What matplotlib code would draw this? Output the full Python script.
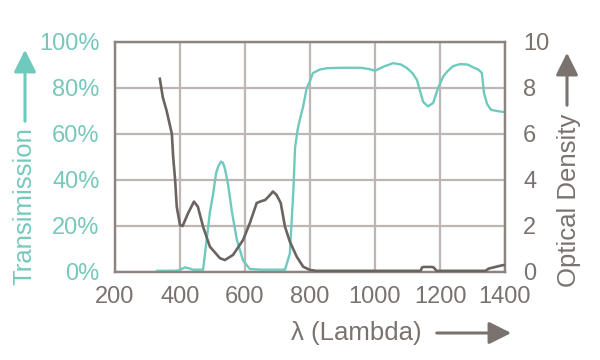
import matplotlib
matplotlib.use("Agg")
import matplotlib.pyplot as plt
from matplotlib.patches import FancyArrowPatch

# Data
wl_T = [330, 394, 405, 415, 428, 440, 471, 482, 492, 502, 511, 518, 526, 532, 538, 548, 560, 575, 594, 615,
        650, 700, 723, 738, 749, 754, 762, 770, 779, 790, 800, 809, 830, 852, 900, 954, 980, 1000, 1030, 1056,
        1080, 1098, 1115, 1129, 1140, 1148, 1163, 1179, 1194, 1210, 1221, 1240, 1262, 1285, 1302, 1318, 1329,
        1335, 1345, 1357, 1375, 1394, 1400]
trans = [0.5, 0.6, 1.3, 2.0, 1.6, 1.0, 1.0, 14, 26, 34, 43, 46, 48, 47.5, 45, 38, 26, 14, 5, 1.3,
         1.0, 1.0, 1.0, 8, 36, 54, 62, 67, 72, 80, 83, 86.5, 88, 88.6, 88.8, 88.8, 88.3, 87.5, 89.5, 90.8,
         90.2, 88.7, 86.5, 83.5, 78, 74, 72, 73.5, 80, 85, 87, 89.5, 90.4, 90.2, 89, 88, 86.5,
         78, 73, 70.5, 70, 69.6, 69.5]

wl_OD = [338, 347, 359, 367, 375, 379, 385, 390, 400, 408, 425, 443, 455, 471, 492, 523, 538, 563, 594, 615,
         636, 650, 662, 677, 686, 697, 710, 723, 738, 759, 779, 800, 820, 900, 1000, 1100, 1140, 1145, 1150,
         1175, 1180, 1190, 1250, 1340, 1350, 1394, 1400]
od = [8.4, 7.6, 7.0, 6.5, 6.0, 5.0, 4.0, 2.84, 2.04, 2.0, 2.56, 3.06, 2.84, 1.97, 1.1, 0.6, 0.52, 0.74, 1.39, 2.13,
      3.0, 3.08, 3.13, 3.35, 3.5, 3.35, 3.0, 1.97, 1.32, 0.67, 0.23, 0.09, 0.05, 0.05, 0.05, 0.05, 0.05, 0.2, 0.22,
      0.22, 0.2, 0.05, 0.05, 0.05, 0.15, 0.3, 0.3]

x_ticks = [200, 400, 600, 800, 1000, 1200, 1400]
t_ticks = [0, 20, 40, 60, 80, 100]
t_labels = ["0%", "20%", "40%", "60%", "80%", "100%"]
od_ticks = [0, 2, 4, 6, 8, 10]

TEAL = "#6fcabd"
TEAL_TXT = "#77c8bb"
GRAY = "#6a6360"
GRAY_TXT = "#7a726f"
GRID = "#bdb6b3"
FRAME = "#8c8480"

plt.rcParams['font.family'] = ['Liberation Sans', 'DejaVu Sans']

fig = plt.figure(figsize=(6, 3.6), dpi=100)
ax = fig.add_axes([115/600, 88/360, 390/600, 230/360])
ax2 = ax.twinx()

ax.plot(wl_T, trans, color=TEAL, lw=1.7, zorder=3)
ax2.plot(wl_OD, od, color=GRAY, lw=1.9, zorder=3)

ax.set_xlim(200, 1400)
ax.set_ylim(0, 100)
ax2.set_ylim(0, 10)
ax.set_xticks(x_ticks)
ax.set_yticks(t_ticks)
ax.set_yticklabels(t_labels)
ax2.set_yticks(od_ticks)

ax.grid(True, color=GRID, lw=1.6)
ax.set_axisbelow(True)
for a in (ax, ax2):
    for s in a.spines.values():
        s.set_color(FRAME)
        s.set_linewidth(1.6)
ax.tick_params(axis='both', length=0)
ax2.tick_params(axis='both', length=0)
ax.tick_params(axis='y', colors=TEAL_TXT, labelsize=17, pad=11)
ax.tick_params(axis='x', colors=GRAY_TXT, labelsize=17, pad=10)
ax2.tick_params(axis='y', colors=GRAY_TXT, labelsize=17, pad=13)

# Axis labels
fig.text(24/600, 1 - 206/360, "Transimission", rotation=90, color=TEAL_TXT, fontsize=18.5,
         ha='center', va='center')
fig.text(569/600, 1 - 200/360, "Optical Density", rotation=90, color=GRAY_TXT, fontsize=18.5,
         ha='center', va='center')
fig.text(356/600, 1 - 333/360, "λ (Lambda)", color=GRAY_TXT, fontsize=18.5, ha='center', va='center')

def arrow(x0, y0, x1, y1, color):
    p = FancyArrowPatch((x0/600, 1 - y0/360), (x1/600, 1 - y1/360), transform=fig.transFigure,
                        arrowstyle='-|>,head_length=9,head_width=4.5', color=color, lw=2.2,
                        mutation_scale=1.5)
    fig.patches.append(p)

arrow(25, 124, 25, 47, TEAL)
arrow(567, 108, 567, 50, GRAY_TXT)
arrow(434, 333, 514, 333, GRAY_TXT)

fig.savefig("out.png", dpi=100)
